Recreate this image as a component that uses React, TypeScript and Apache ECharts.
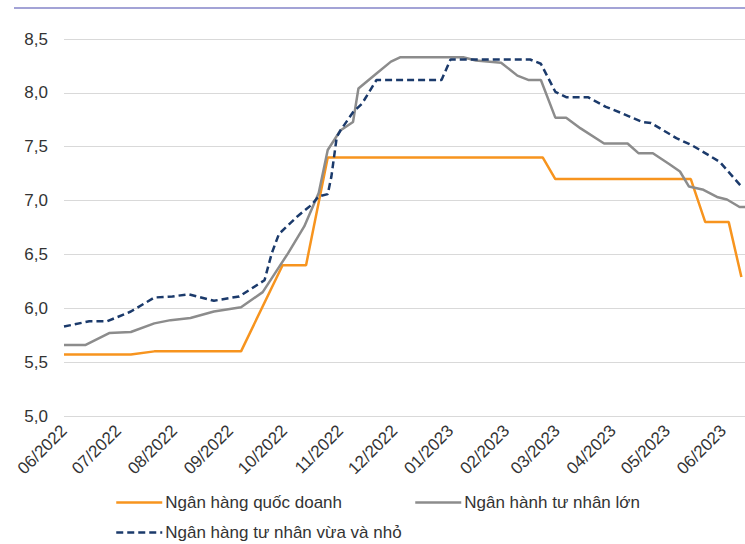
import React, { useEffect, useRef } from "react";
import * as echarts from "echarts";

const seriesNames = [
  "Ngân hàng quốc doanh",
  "Ngân hành tư nhân lớn",
  "Ngân hàng tư nhân vừa và nhỏ",
];

const stateDates = [
  "2022-06-01", "2022-07-08", "2022-07-21", "2022-09-07", "2022-09-30", "2022-10-13",
  "2022-10-25", "2023-02-21", "2023-02-28", "2023-05-14", "2023-05-22", "2023-06-04", "2023-06-11",
];
const stateRates = [5.57, 5.57, 5.6, 5.6, 6.4, 6.4, 7.4, 7.4, 7.2, 7.2, 6.8, 6.8, 6.29];

const largeDates = [
  "2022-06-01", "2022-06-13", "2022-06-26", "2022-07-08", "2022-07-21", "2022-07-30",
  "2022-08-10", "2022-08-23", "2022-09-07", "2022-09-19", "2022-10-03", "2022-10-12",
  "2022-10-20", "2022-10-25", "2022-11-01", "2022-11-08", "2022-11-11", "2022-11-21",
  "2022-11-29", "2022-12-04", "2023-01-08", "2023-01-15", "2023-01-29", "2023-02-07",
  "2023-02-13", "2023-02-20", "2023-02-28", "2023-03-06", "2023-03-14", "2023-03-27",
  "2023-04-09", "2023-04-15", "2023-04-23", "2023-05-02", "2023-05-08", "2023-05-13",
  "2023-05-21", "2023-05-29", "2023-06-03", "2023-06-10", "2023-06-13",
];
const largeRates = [
  5.66, 5.66, 5.77, 5.78, 5.86, 5.89,
  5.91, 5.97, 6.01, 6.15, 6.51, 6.76,
  7.07, 7.47, 7.65, 7.73, 8.04, 8.18,
  8.29, 8.33, 8.33, 8.3, 8.28, 8.16,
  8.12, 8.12, 7.77, 7.77, 7.67, 7.53,
  7.53, 7.44, 7.44, 7.34, 7.27, 7.13,
  7.1, 7.03, 7.01, 6.94, 6.94,
];

const smallDates = [
  "2022-06-01", "2022-06-15", "2022-06-25", "2022-07-08", "2022-07-21", "2022-07-31",
  "2022-08-09", "2022-08-23", "2022-09-06", "2022-09-20", "2022-09-24", "2022-09-28",
  "2022-10-08", "2022-10-16", "2022-10-20", "2022-10-25", "2022-10-27", "2022-10-30",
  "2022-11-01", "2022-11-08", "2022-11-13", "2022-11-21", "2022-12-27", "2023-01-01",
  "2023-02-14", "2023-02-20", "2023-02-28", "2023-03-06", "2023-03-18", "2023-03-28",
  "2023-04-06", "2023-04-17", "2023-04-22", "2023-05-06", "2023-05-15", "2023-05-30",
  "2023-06-11",
];
const smallRates = [
  5.83, 5.88, 5.88, 5.97, 6.1, 6.11,
  6.13, 6.07, 6.11, 6.26, 6.51, 6.69,
  6.85, 6.96, 7.04, 7.06, 7.22, 7.59,
  7.65, 7.82, 7.9, 8.12, 8.12, 8.31,
  8.31, 8.27, 8.01, 7.96, 7.96, 7.87,
  7.81, 7.73, 7.72, 7.58, 7.51, 7.36,
  7.13,
];

const xMin = "2022-06-01";
const xMax = "2023-06-13";
const yMin = 5;
const yMax = 8.5;
const yStep = 0.5;

const colors = ["#F7941E", "#8C8C8C", "#1B3A6B"];

const zip = (d: string[], v: number[]) => d.map((x, i) => [x, v[i]]);

export default function App() {
  const ref = useRef<HTMLDivElement>(null);
  useEffect(() => {
    const chart = echarts.init(ref.current!, null, { renderer: "svg" });
    const DAY = 86400000;
    const font = "'Liberation Sans', Arial, sans-serif";
    const legendBase = {
      padding: 0,
      itemWidth: 46,
      itemHeight: 14,
      itemStyle: { opacity: 0 },
      lineStyle: { width: 2.5 },
      textStyle: { fontFamily: font, fontSize: 17, color: "#333333", padding: [0, 0, 0, -2] },
    };
    chart.setOption({
      animation: false,
      backgroundColor: "#ffffff",
      graphic: [
        {
          type: "line",
          shape: { x1: 14, y1: 8, x2: 745, y2: 8 },
          style: { stroke: "#A3A3D6", lineWidth: 2 },
        },
      ],
      grid: { left: 64, right: 0, top: 39, bottom: 128, containLabel: false },
      xAxis: {
        type: "time",
        min: xMin,
        max: xMax,
        splitNumber: 13,
        minInterval: 28 * DAY,
        maxInterval: 31 * DAY,
        axisLine: { show: false },
        axisTick: { show: false },
        splitLine: { show: false },
        axisLabel: {
          rotate: 45,
          margin: 12,
          fontFamily: font,
          fontSize: 17,
          color: "#333333",
          hideOverlap: false,
          showMinLabel: true,
          showMaxLabel: false,
          formatter: (val: number) => {
            const d = new Date(val);
            return String(d.getMonth() + 1).padStart(2, "0") + "/" + d.getFullYear();
          },
        },
      },
      yAxis: {
        type: "value",
        min: yMin,
        max: yMax,
        interval: yStep,
        axisLine: { show: false },
        axisTick: { show: false },
        splitLine: { lineStyle: { color: "#D9D9D9", width: 1 } },
        axisLabel: {
          margin: 16,
          fontFamily: font,
          fontSize: 17,
          color: "#333333",
          formatter: (v: number) => v.toFixed(1).replace(".", ","),
        },
      },
      legend: [
        { ...legendBase, left: 115, top: 494, data: [seriesNames[0]] },
        { ...legendBase, left: 414, top: 494, data: [seriesNames[1]] },
        { ...legendBase, left: 115, top: 524, data: [seriesNames[2]] },
      ],
      series: [
        {
          name: seriesNames[0],
          type: "line",
          symbol: "none",
          data: zip(stateDates, stateRates),
          lineStyle: { color: colors[0], width: 2.5 },
          itemStyle: { color: colors[0] },
        },
        {
          name: seriesNames[1],
          type: "line",
          symbol: "none",
          data: zip(largeDates, largeRates),
          lineStyle: { color: colors[1], width: 2.5 },
          itemStyle: { color: colors[1] },
        },
        {
          name: seriesNames[2],
          type: "line",
          symbol: "none",
          data: zip(smallDates, smallRates),
          lineStyle: { color: colors[2], width: 2.5, type: [7, 4] },
          itemStyle: { color: colors[2] },
        },
      ],
    });
    return () => chart.dispose();
  }, []);
  return (
    <div
      ref={ref}
      style={{ position: "absolute", left: 0, top: 0, width: 745, height: 544 }}
    />
  );
}
